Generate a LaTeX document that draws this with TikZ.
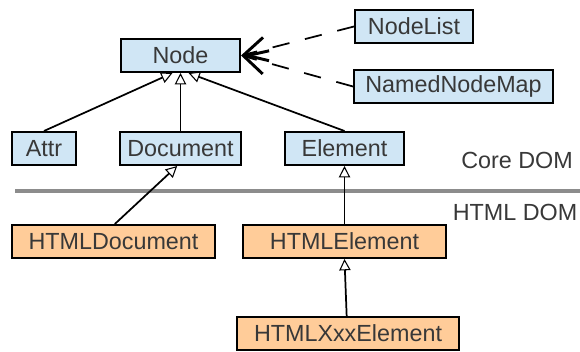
\documentclass[tikz,border=0pt]{standalone}
\usepackage{fontspec}
\setmainfont{Liberation Sans}
\usetikzlibrary{arrows.meta}
\definecolor{boxblue}{HTML}{D0E6F5}
\definecolor{boxorange}{HTML}{FFCC99}
\definecolor{txt}{HTML}{383838}
\definecolor{sepgray}{HTML}{8C8C8C}
\tikzset{
  box/.style={draw=black, line width=1.5pt, inner sep=0pt, minimum height=33*0.75pt,
    font=\fontsize{17.5}{20}\selectfont, text=txt},
  core/.style={box, fill=boxblue},
  html/.style={box, fill=boxorange},
  bw/.style={minimum width=#1*0.75pt},
  inh/.style={line width=1.3pt, -{Triangle[fill=white, length=8.5pt, width=8.5pt, line width=0.8pt]}},
  use/.style={line width=1.3pt, dash pattern=on 13pt off 12pt,
    -{Straight Barb[length=17pt, width=18pt, line width=2.2pt]}},
  layer/.style={font=\fontsize{17.5}{20}\selectfont, text=txt, inner sep=0pt}
}
\begin{document}
\begin{tikzpicture}[x=0.75pt,y=-0.75pt]
\useasboundingbox (0,0) rectangle (580,352);
\node[core, bw=119] (nd) at (180.5,55.5) {Node};
\node[core, bw=64] (attr) at (44,148.5) {Attr};
\node[core, bw=121] (doc) at (180.5,148.5) {Document};
\node[core, bw=119] (elem) at (344.5,148.5) {Element};
\node[core, bw=118] (nlist) at (414,26.5) {NodeList};
\node[core, bw=199] (nnm) at (453.5,86.5) {NamedNodeMap};
\node[html, bw=203] (hdoc) at (113.5,241.5) {HTMLDocument};
\node[html, bw=203] (helem) at (344.5,241.5) {HTMLElement};
\node[html, bw=222] (hxxx) at (348,333.5) {HTMLXxxElement};
\node[layer] (coredom) at (517,160) {Core DOM};
\node[layer] (htmldom) at (515,212) {HTML DOM};
\coordinate (sepL) at (15,191);
\coordinate (sepR) at (580,191);
\draw[sepgray, line width=2.4pt] (sepL) -- (sepR);
\draw[inh] (attr.north) -- ([xshift=-6pt]nd.south);
\draw[inh] (doc.north) -- (nd.south);
\draw[inh] (elem.north) -- ([xshift=6pt]nd.south);
\draw[inh] ([xshift=1pt]hdoc.north) -- ([xshift=-2.5pt]doc.south);
\draw[inh] (helem.north) -- (elem.south);
\draw[inh] ([xshift=-1pt]hxxx.north) -- (helem.south);
\draw[use] (nlist.west) -- (nd.east);
\draw[use] (nnm.west) -- (nd.east);
\end{tikzpicture}
\end{document}
